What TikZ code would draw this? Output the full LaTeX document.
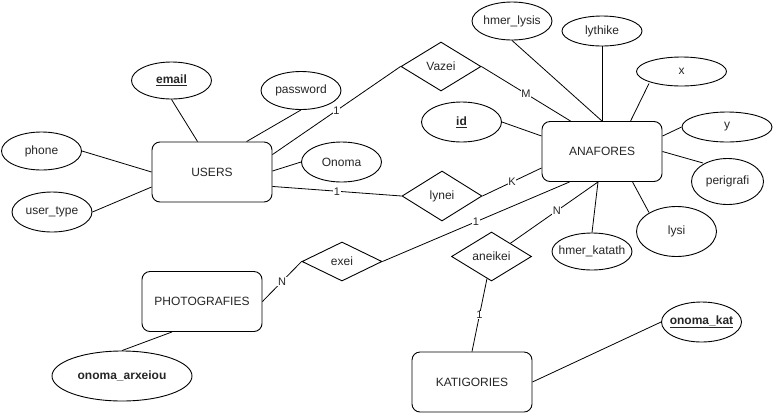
\documentclass[tikz,border=0pt]{standalone}
\usepackage{fontspec}
\setmainfont{Liberation Sans}
\usetikzlibrary{shapes.geometric,calc}
\newcommand\zt[1]{\makebox[0pt]{#1}}
\tikzset{
  base/.style={draw=black, line width=0.9pt, inner sep=0pt, font=\fontsize{12}{14}\selectfont, text=black!85},
  entity/.style={base, rectangle, rounded corners=8pt, minimum width=120pt, minimum height=60pt},
  attr/.style={base, ellipse, minimum width=80pt, minimum height=38pt},
  rel/.style={base, diamond, minimum width=80pt, minimum height=49pt},
  conn/.style={draw=black, line width=0.8pt},
  card/.style={fill=white, inner sep=0.6pt, font=\fontsize{11}{12}\selectfont, text=black!85}
}
\begin{document}
\begin{tikzpicture}[x=1pt,y=-1pt]
\useasboundingbox[fill=white] (0,0) rectangle (773,416);
% entities
\node[entity] (users) at (212,172) {USERS};
\node[entity] (anaf) at (602,151.5) {ANAFORES};
\node[entity] (photo) at (202,301.5) {PHOTOGRAFIES};
\node[entity] (kat) at (472,382) {KATIGORIES};
% attributes
\node[attr, minimum height=37pt] (email) at (171.5,80.5) {\zt{\underline{\textbf{email}}}};
\node[attr] (phone) at (41.5,151) {\zt{phone}};
\node[attr, minimum height=40pt] (usertype) at (52,212) {\zt{user\_type}};
\node[attr] (password) at (301,90.5) {\zt{password}};
\node[attr, minimum height=40pt] (onoma) at (341.5,162) {\zt{Onoma}};
\node[attr, minimum height=40pt] (id) at (461.5,122) {\zt{\underline{\textbf{id}}}};
\node[attr] (hmerlysis) at (512,21) {\zt{hmer\_lysis}};
\node[attr, minimum height=30pt] (lythike) at (602,31) {\zt{lythike}};
\node[attr, minimum width=90pt, minimum height=29pt] (x) at (681.5,71.5) {\zt{x}};
\node[attr, minimum width=90pt, minimum height=30pt] (y) at (727,127) {\zt{y}};
\node[attr, minimum width=72pt, minimum height=46pt] (perigrafi) at (727.5,181.5) {\zt{perigrafi}};
\node[attr, minimum height=50pt] (lysi) at (676.5,231.5) {\zt{lysi}};
\node[attr, minimum height=37pt] (hmerkatath) at (592,251.5) {\zt{hmer\_katath}};
\node[attr, minimum width=140pt, minimum height=50pt] (onomaarxeiou) at (122,376) {\zt{\textbf{onoma\_arxeiou}}};
\node[attr, minimum height=40pt] (onomakat) at (701.5,322) {\zt{\underline{\textbf{onoma\_kat}}}};
% relationships
\node[rel] (vazei) at (441,66.5) {Vazei};
\node[rel, minimum height=50pt] (lynei) at (442,196) {lynei};
\node[rel, minimum height=39pt] (exei) at (342,261.5) {exei};
\node[rel] (aneikei) at (491.5,256.5) {aneikei};
% attribute connectors
\draw[conn] (email.south) -- ($(users.north west)+(46,0)$);
\draw[conn] (phone.east) -- (users.west);
\draw[conn] (usertype.east) -- ($(users.west)+(0,15)$);
\draw[conn] (password.south) -- ($(users.north west)+(95,0)$);
\draw[conn] (onoma.west) -- ($(users.east)+(0,-1)$);
\draw[conn] (id.east) -- ($(anaf.west)+(0,-15.5)$);
\draw[conn] (hmerlysis.south) -- (anaf.north);
\draw[conn] (lythike.south) -- (anaf.north);
\draw[conn] ($(x.south)+(-32.5,-3)$) -- ($(anaf.north west)+(89,0)$);
\draw[conn] (y.west) -- ($(anaf.north east)+(0,15)$);
\draw[conn] (anaf.east) -- ($(perigrafi.center)+(-24.5,-18.5)$);
\draw[conn] ($(anaf.south west)+(91,0)$) -- ($(lysi.center)+(-27.5,-19)$);
\draw[conn] ($(anaf.south)+(-4,0)$) -- (hmerkatath.north);
\draw[conn] (onomaarxeiou.north) -- ($(photo.south)+(-30,0)$);
\draw[conn] (kat.east) -- (onomakat.west);
% relationship connectors
\draw[conn] ($(users.north east)+(0,13)$) -- node[card] {1} (vazei.west);
\draw[conn] (vazei.east) -- node[card] {M} ($(anaf.north west)+(29,0)$);
\draw[conn] ($(users.south east)+(0,-16)$) -- node[card] {1} (lynei.west);
\draw[conn] (lynei.east) -- node[card] {K} ($(anaf.south west)+(0,-14)$);
\draw[conn] (photo.east) -- node[card] {N} (exei.west);
\draw[conn] (exei.east) -- node[card] {1} ($(anaf.south west)+(28,0)$);
\draw[conn] ($(anaf.south)+(-4,0)$) -- node[card, pos=0.47] {N} (aneikei);
\draw[conn] (kat.north) -- node[card] {1} (aneikei);
\end{tikzpicture}
\end{document}
